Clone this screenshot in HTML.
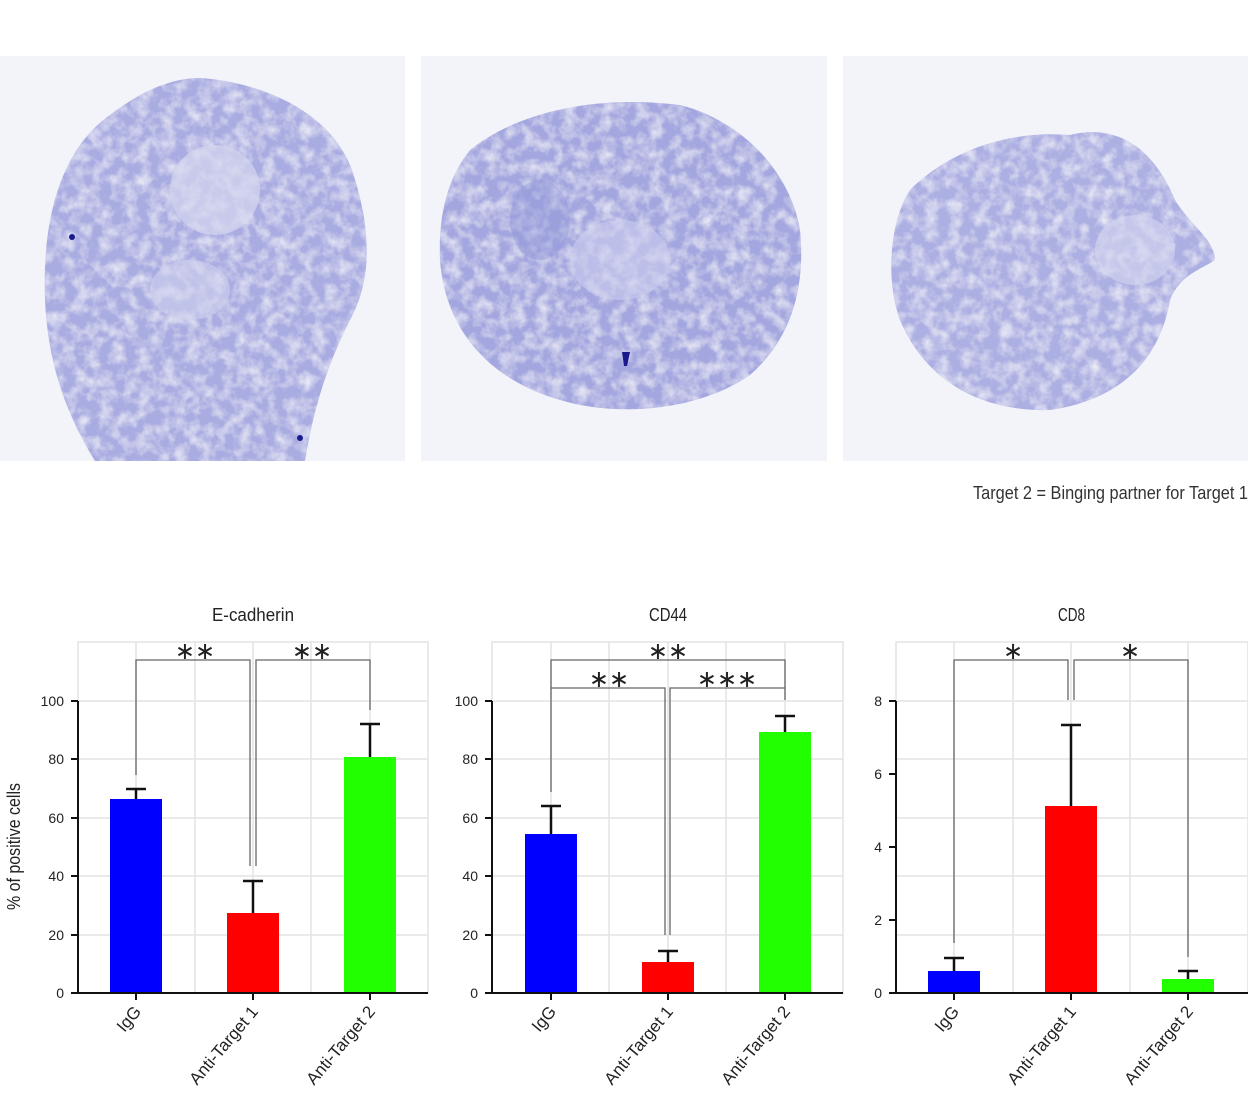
<!DOCTYPE html>
<html><head><meta charset="utf-8"><style>
html,body{margin:0;padding:0;background:#fff;}
svg{display:block;}
text{font-family:"Liberation Sans Narrow","Liberation Sans",sans-serif;}
</style></head><body>
<svg width="1248" height="1095" viewBox="0 0 1248 1095" xmlns="http://www.w3.org/2000/svg">
<defs>
<filter id="tx" x="0" y="0" width="100%" height="100%">
<feTurbulence type="fractalNoise" baseFrequency="0.08" numOctaves="3" seed="3" result="n"/>
<feColorMatrix in="n" type="matrix" values="0 0 0 0 1  0 0 0 0 1  0 0 0 0 1  0 0 0 -1.2 0.75" result="a"/>
<feComposite in="a" in2="SourceGraphic" operator="in" result="b"/>
<feMerge><feMergeNode in="SourceGraphic"/><feMergeNode in="b"/></feMerge>
</filter>
</defs>
<rect x="0" y="56" width="405" height="405" fill="#f3f3fa"/>
<rect x="421" y="56" width="406" height="405" fill="#f3f3fa"/>
<rect x="843" y="56" width="405" height="405" fill="#f3f3fa"/>
<g filter="url(#tx)">
<path d="M200,78 C260,82 330,110 352,170 C372,230 372,280 350,320 C330,360 315,400 305,461 L95,461 C70,420 48,370 45,300 C42,220 60,150 110,115 C140,92 170,78 200,78Z" fill="#a9ace1"/>
<path d="M470,150 C520,110 600,95 680,105 C740,120 790,170 800,230 C806,290 790,340 750,375 C700,410 620,418 560,400 C490,380 445,330 440,260 C438,210 450,175 470,150Z" fill="#a4a7df"/>
<path d="M910,190 C950,150 1010,130 1070,135 C1110,125 1150,140 1175,200 C1190,225 1215,240 1215,260 C1200,270 1180,275 1170,300 C1160,360 1120,400 1050,410 C980,412 925,380 900,320 C885,280 890,220 910,190Z" fill="#acafe2"/>
</g>
<ellipse cx="215" cy="190" rx="45" ry="45" fill="#d6d7f0" opacity="0.7"/>
<ellipse cx="190" cy="290" rx="40" ry="30" fill="#d0d2ef" opacity="0.6"/>
<ellipse cx="620" cy="260" rx="50" ry="40" fill="#cbcdee" opacity="0.6"/>
<ellipse cx="1135" cy="250" rx="40" ry="35" fill="#d4d5f0" opacity="0.6"/>
<ellipse cx="540" cy="220" rx="30" ry="40" fill="#8f93d6" opacity="0.4"/>
<path d="M622,352 l8,0 l-3,14 l-3,0z" fill="#1a1a8a"/>
<circle cx="72" cy="237" r="3" fill="#1a1a8a"/>
<circle cx="300" cy="438" r="3" fill="#1a1a8a"/>

<text x="973" y="499" textLength="275" lengthAdjust="spacingAndGlyphs" font-size="18" fill="#333">Target 2 = Binging partner for Target 1</text>

<g stroke="#e3e3e3" stroke-width="1.5" fill="none">
<rect x="78" y="642" width="350" height="351"/>
<line x1="78" y1="701" x2="428" y2="701"/><line x1="78" y1="759" x2="428" y2="759"/><line x1="78" y1="818" x2="428" y2="818"/><line x1="78" y1="876" x2="428" y2="876"/><line x1="78" y1="935" x2="428" y2="935"/>
<line x1="136" y1="642" x2="136" y2="993"/><line x1="195" y1="642" x2="195" y2="993"/><line x1="253" y1="642" x2="253" y2="993"/><line x1="311" y1="642" x2="311" y2="993"/><line x1="370" y1="642" x2="370" y2="993"/>
<rect x="492" y="642" width="351" height="351"/>
<line x1="492" y1="701" x2="843" y2="701"/><line x1="492" y1="759" x2="843" y2="759"/><line x1="492" y1="818" x2="843" y2="818"/><line x1="492" y1="876" x2="843" y2="876"/><line x1="492" y1="935" x2="843" y2="935"/>
<line x1="551" y1="642" x2="551" y2="993"/><line x1="609" y1="642" x2="609" y2="993"/><line x1="668" y1="642" x2="668" y2="993"/><line x1="726" y1="642" x2="726" y2="993"/><line x1="785" y1="642" x2="785" y2="993"/>
<rect x="896" y="642" width="352" height="351"/>
<line x1="896" y1="701" x2="1248" y2="701"/><line x1="896" y1="759" x2="1248" y2="759"/><line x1="896" y1="818" x2="1248" y2="818"/><line x1="896" y1="876" x2="1248" y2="876"/><line x1="896" y1="935" x2="1248" y2="935"/>
<line x1="954" y1="642" x2="954" y2="993"/><line x1="1013" y1="642" x2="1013" y2="993"/><line x1="1071" y1="642" x2="1071" y2="993"/><line x1="1130" y1="642" x2="1130" y2="993"/><line x1="1188" y1="642" x2="1188" y2="993"/>
</g>

<rect x="110" y="799" width="52" height="194" fill="#0000ff"/>
<rect x="227" y="913" width="52" height="80" fill="#ff0000"/>
<rect x="344" y="757" width="52" height="236" fill="#22ff00"/>
<rect x="525" y="834" width="52" height="159" fill="#0000ff"/>
<rect x="642" y="962" width="52" height="31" fill="#ff0000"/>
<rect x="759" y="732" width="52" height="261" fill="#22ff00"/>
<rect x="928" y="971" width="52" height="22" fill="#0000ff"/>
<rect x="1045" y="806" width="52" height="187" fill="#ff0000"/>
<rect x="1162" y="979" width="52" height="14" fill="#22ff00"/>

<g stroke="#111" stroke-width="2.5" fill="none">
<path d="M136,799V789M126,789H146M253,913V881M243,881H263M370,757V724M360,724H380"/>
<path d="M551,834V806M541,806H561M668,962V951M658,951H678M785,732V716M775,716H795"/>
<path d="M954,971V958M944,958H964M1071,806V725M1061,725H1081M1188,979V971M1178,971H1198"/>
</g>
<g stroke="#666" stroke-width="1.3" fill="none">
<path d="M136,775V660H250V866M256,866V660H370V710"/>
<path d="M551,792V660H785V700M551,792V688H665V935M670,935V688H785V700"/>
<path d="M954,943V660H1068V700M1074,700V660H1188V957"/>
</g>
<g font-size="24" fill="#222" text-anchor="middle" font-family="DejaVu Sans,sans-serif">
<text x="195" y="659">∗∗</text><text x="312" y="659">∗∗</text>
<text x="668" y="659">∗∗</text><text x="609" y="687">∗∗</text><text x="727" y="687">∗∗∗</text>
<text x="1013" y="659">∗</text><text x="1130" y="659">∗</text>
</g>

<g stroke="#111" stroke-width="2" fill="none">
<path d="M78,701V993M71,701H78M71,759H78M71,818H78M71,876H78M71,935H78M71,993H428M136,993V1000M253,993V1000M370,993V1000"/>
<path d="M492,701V993M485,701H492M485,759H492M485,818H492M485,876H492M485,935H492M485,993H843M551,993V1000M668,993V1000M785,993V1000"/>
<path d="M896,701V993M889,701H896M889,774H896M889,847H896M889,920H896M889,993H1248M954,993V1000M1071,993V1000M1188,993V1000"/>
</g>
<g font-size="14" fill="#222" text-anchor="end">
<text x="64" y="706">100</text><text x="64" y="764">80</text><text x="64" y="823">60</text><text x="64" y="881">40</text><text x="64" y="940">20</text><text x="64" y="998">0</text>
<text x="478" y="706">100</text><text x="478" y="764">80</text><text x="478" y="823">60</text><text x="478" y="881">40</text><text x="478" y="940">20</text><text x="478" y="998">0</text>
<text x="882" y="706">8</text><text x="882" y="779">6</text><text x="882" y="852">4</text><text x="882" y="925">2</text><text x="882" y="998">0</text>
</g>
<g font-size="18" fill="#222">
<text x="212" y="621" textLength="82" lengthAdjust="spacingAndGlyphs">E-cadherin</text>
<text x="649" y="621" textLength="38" lengthAdjust="spacingAndGlyphs">CD44</text>
<text x="1058" y="621" textLength="27" lengthAdjust="spacingAndGlyphs">CD8</text>
</g>
<text transform="translate(20,910) rotate(-90)" font-size="18" fill="#222" textLength="127" lengthAdjust="spacingAndGlyphs">% of positive cells</text>
<g font-size="17" fill="#222" text-anchor="end">
<text transform="translate(142,1012) rotate(-50)">IgG</text>
<text transform="translate(259,1012) rotate(-50)">Anti-Target 1</text>
<text transform="translate(376,1012) rotate(-50)">Anti-Target 2</text>
<text transform="translate(557,1012) rotate(-50)">IgG</text>
<text transform="translate(674,1012) rotate(-50)">Anti-Target 1</text>
<text transform="translate(791,1012) rotate(-50)">Anti-Target 2</text>
<text transform="translate(960,1012) rotate(-50)">IgG</text>
<text transform="translate(1077,1012) rotate(-50)">Anti-Target 1</text>
<text transform="translate(1194,1012) rotate(-50)">Anti-Target 2</text>
</g>
</svg>
</body></html>
